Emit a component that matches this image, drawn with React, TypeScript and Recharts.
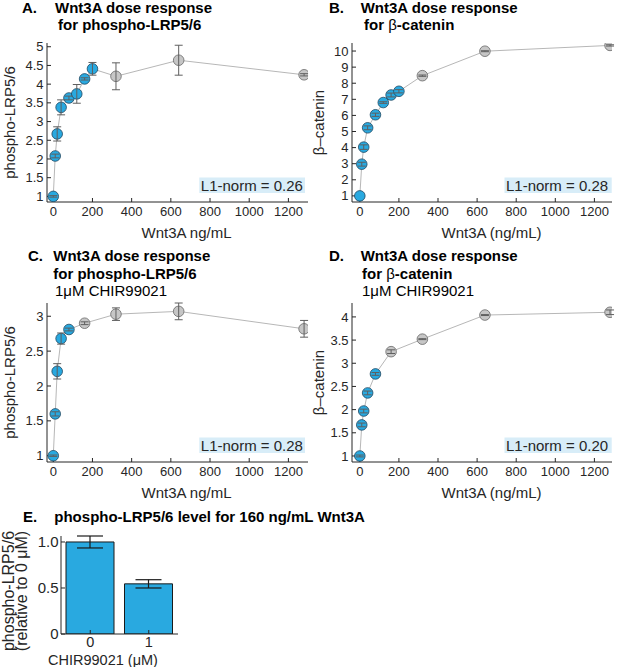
import React from "react";
import { ComposedChart, Line, ErrorBar, XAxis, YAxis, BarChart, Bar } from "recharts";

// panels A and B: Wnt3A alone
const doseAB = [0, 10, 20, 40, 80, 120, 160, 200, 320, 640, 1280];
const lrpA = [1.0, 2.08, 2.67, 3.38, 3.63, 3.74, 4.14, 4.41, 4.21, 4.64, 4.25];
const lrpAErr = [0.02, 0.05, 0.19, 0.2, 0.05, 0.25, 0.03, 0.17, 0.36, 0.4, 0.03];
const catB = [1.0, 2.97, 4.03, 5.23, 6.04, 6.8, 7.27, 7.5, 8.47, 9.99, 10.35];
const catBErr = [0.0, 0.12, 0.14, 0.12, 0.1, 0.05, 0.12, 0.1, 0.04, 0.03, 0.04];
const fitAB = 8;

// panels C and D: with 1 uM CHIR99021
const doseCD = [0, 10, 20, 40, 80, 160, 320, 640, 1280];
const lrpC = [1.0, 1.6, 2.21, 2.68, 2.81, 2.9, 3.03, 3.07, 2.82];
const lrpCErr = [0.01, 0.03, 0.11, 0.08, 0.02, 0.02, 0.09, 0.12, 0.12];
const catD = [1.0, 1.67, 1.97, 2.36, 2.77, 3.25, 3.52, 4.04, 4.1];
const catDErr = [0.02, 0.04, 0.04, 0.04, 0.03, 0.04, 0.01, 0.01, 0.05];
const fitCD = 5;

// panel E
const chirDose = ["0", "1"];
const lrpE = [1.0, 0.545];
const lrpEErr = [0.065, 0.045];

const doseTicks = [0, 200, 400, 600, 800, 1000, 1200];
const ticksA = [1, 1.5, 2, 2.5, 3, 3.5, 4, 4.5, 5];
const ticksB = [1, 2, 3, 4, 5, 6, 7, 8, 9, 10];
const ticksC = [1, 1.5, 2, 2.5, 3];
const ticksD = [1, 1.5, 2, 2.5, 3, 3.5, 4];
const ticksE = [0, 0.5, 1];

const FONT = '"Liberation Sans", Arial, Helvetica, sans-serif';
const INK = "#262626";
const BLUE = "#29a9e0";
const GREY = "#c6c6c6";
const NOTE = "#d8edf8";

type Pt = { dose: number; value: number; err: number; fit: boolean };

function toPoints(doses: number[], values: number[], errs: number[], fitCount: number): Pt[] {
  return doses.map((d, i) => ({ dose: d, value: values[i], err: errs[i], fit: i < fitCount }));
}

function Marker(props: any) {
  const { cx, cy, payload, index } = props;
  if (cx == null || cy == null) return <g key={`m-${index}`} />;
  return (
    <circle
      key={`m-${index}`}
      cx={cx}
      cy={cy}
      r={5.3}
      fill={payload.fit ? BLUE : GREY}
      stroke={payload.fit ? "#1f4660" : "#676767"}
      strokeWidth={0.8}
    />
  );
}

interface DosePanelProps {
  data: Pt[];
  left: number;
  top: number;
  right: number;
  xDomain: [number, number];
  yDomain: [number, number];
  yTicks: number[];
}

function DosePanel({ data, left, top, right, xDomain, yDomain, yTicks }: DosePanelProps) {
  const tick = { fill: INK, fontSize: 13, fontFamily: FONT };
  return (
    <div style={{ position: "absolute", left, top }}>
      <ComposedChart width={310} height={245} data={data} margin={{ top: 43, right, left: 0, bottom: 0 }}>
        <XAxis
          dataKey="dose"
          type="number"
          domain={xDomain}
          ticks={doseTicks}
          interval={0}
          allowDataOverflow
          height={43}
          tickSize={-4}
          tickMargin={9}
          stroke={INK}
          tick={tick}
        />
        <YAxis
          type="number"
          domain={yDomain}
          ticks={yTicks}
          interval={0}
          allowDataOverflow
          width={47}
          tickSize={-4}
          tickMargin={7.5}
          stroke={INK}
          tick={tick}
        />
        <Line
          dataKey="value"
          type="linear"
          stroke="#b7b7b7"
          strokeWidth={1}
          dot={Marker}
          activeDot={false}
          isAnimationActive={false}
        />
        {/* second, invisible series so the error bars sit over the markers */}
        <Line dataKey="value" stroke="none" dot={false} activeDot={false} legendType="none" isAnimationActive={false}>
          <ErrorBar dataKey="err" direction="y" width={4} stroke="#5f5f5f" strokeWidth={1} zIndex={1500} />
        </Line>
      </ComposedChart>
    </div>
  );
}

function Note({ x, y, w, text }: { x: number; y: number; w: number; text: string }) {
  return (
    <g>
      <rect x={x} y={y} width={w} height={15.5} fill={NOTE} />
      <text x={x + 1.5} y={y + 13.3} fontSize={15} fill={INK}>
        {text}
      </text>
    </g>
  );
}

function Overlay() {
  return (
    <svg width={617} height={667} style={{ position: "absolute", left: 0, top: 0 }} fontFamily={FONT}>
      {/* titles */}
      <g fontSize={15} fill="#000" fontWeight="bold">
        <text x={22} y={13}>A.</text>
        <text x={55} y={13}>Wnt3A dose response</text>
        <text x={58} y={30}>for phospho-LRP5/6</text>

        <text x={329} y={13}>B.</text>
        <text x={360.7} y={13}>Wnt3A dose response</text>
        <text x={364} y={30}>
          for <tspan fontWeight="normal">β</tspan>-catenin
        </text>

        <text x={28} y={261}>C.</text>
        <text x={53.3} y={261}>Wnt3A dose response</text>
        <text x={53.3} y={278.5}>for phospho-LRP5/6</text>
        <text x={55} y={296} fontWeight="normal">1μM CHIR99021</text>

        <text x={329} y={261}>D.</text>
        <text x={360.7} y={261}>Wnt3A dose response</text>
        <text x={362} y={278.5}>
          for <tspan fontWeight="normal">β</tspan>-catenin
        </text>
        <text x={362} y={296} fontWeight="normal">1μM CHIR99021</text>

        <text x={23} y={522}>E.</text>
        <text x={54.3} y={522}>phospho-LRP5/6 level for 160 ng/mL Wnt3A</text>
      </g>

      {/* axis titles */}
      <g fontSize={15} fill={INK} textAnchor="middle">
        <text x={186.5} y={238}>Wnt3A ng/mL</text>
        <text x={491.5} y={238}>Wnt3A (ng/mL)</text>
        <text x={186.5} y={498}>Wnt3A ng/mL</text>
        <text x={491.5} y={498}>Wnt3A (ng/mL)</text>
        <text transform="translate(15,122.5) rotate(-90)">phospho-LRP5/6</text>
        <text transform="translate(324,122.5) rotate(-90)">β–catenin</text>
        <text transform="translate(15,382.5) rotate(-90)">phospho-LRP5/6</text>
        <text transform="translate(324,382.5) rotate(-90)">β–catenin</text>
        <text x={103} y={664.5} fontSize={14.5}>CHIR99021 (μM)</text>
        <text transform="translate(14,591) rotate(-90)" fontSize={16}>phospho-LRP5/6</text>
        <text transform="translate(26.5,591) rotate(-90)" fontSize={16}>(relative to 0 μM)</text>
      </g>

      {/* L1-norm notes */}
      <Note x={199.3} y={177.5} w={105.7} text="L1-norm = 0.26" />
      <Note x={504.5} y={177.5} w={107.2} text="L1-norm = 0.28" />
      <Note x={199.3} y={437.5} w={105.7} text="L1-norm = 0.28" />
      <Note x={504.5} y={437.5} w={107.2} text="L1-norm = 0.20" />
    </svg>
  );
}

function LevelPanel() {
  const data = chirDose.map((c, i) => ({ chir: c, value: lrpE[i], err: lrpEErr[i] }));
  const tick = { fill: INK, fontSize: 14.5, fontFamily: FONT };
  return (
    <div style={{ position: "absolute", left: 0, top: 500 }}>
      <BarChart width={190} height={167} data={data} margin={{ top: 36, right: 12, left: 0, bottom: 0 }}>
        <XAxis
          dataKey="chir"
          type="category"
          height={33}
          tickSize={-4}
          tickMargin={7}
          interval={0}
          stroke={INK}
          tick={tick}
        />
        <YAxis
          type="number"
          domain={[0, 1.065]}
          ticks={ticksE}
          interval={0}
          allowDataOverflow
          width={61}
          tickSize={-4}
          tickMargin={6.5}
          stroke={INK}
          tick={{ ...tick, fontSize: 15 }}
          tickFormatter={(v: number) => (v === 0 ? "0" : v.toFixed(1))}
        />
        <Bar dataKey="value" barSize={48} fill={BLUE} stroke="#1a1a1a" strokeWidth={1} isAnimationActive={false}>
          <ErrorBar dataKey="err" width={13} stroke="#1a1a1a" strokeWidth={1.2} />
        </Bar>
      </BarChart>
    </div>
  );
}

export default function App() {
  return (
    <div
      style={{
        position: "absolute",
        left: 0,
        top: 0,
        width: 617,
        height: 667,
        background: "#fff",
        fontFamily: FONT,
        overflow: "hidden",
      }}
    >
      <Overlay />
      <DosePanel
        data={toPoints(doseAB, lrpA, lrpAErr, fitAB)}
        left={0}
        top={0}
        right={2}
        xDomain={[-32, 1300]}
        yDomain={[0.85, 5.1]}
        yTicks={ticksA}
      />
      <DosePanel
        data={toPoints(doseAB, catB, catBErr, fitAB)}
        left={305}
        top={0}
        right={3}
        xDomain={[-40, 1290]}
        yDomain={[0.62, 10.5]}
        yTicks={ticksB}
      />
      <DosePanel
        data={toPoints(doseCD, lrpC, lrpCErr, fitCD)}
        left={0}
        top={260}
        right={2}
        xDomain={[-32, 1300]}
        yDomain={[0.91, 3.19]}
        yTicks={ticksC}
      />
      <DosePanel
        data={toPoints(doseCD, catD, catDErr, fitCD)}
        left={305}
        top={260}
        right={3}
        xDomain={[-40, 1290]}
        yDomain={[0.87, 4.3]}
        yTicks={ticksD}
      />
      <LevelPanel />
    </div>
  );
}
